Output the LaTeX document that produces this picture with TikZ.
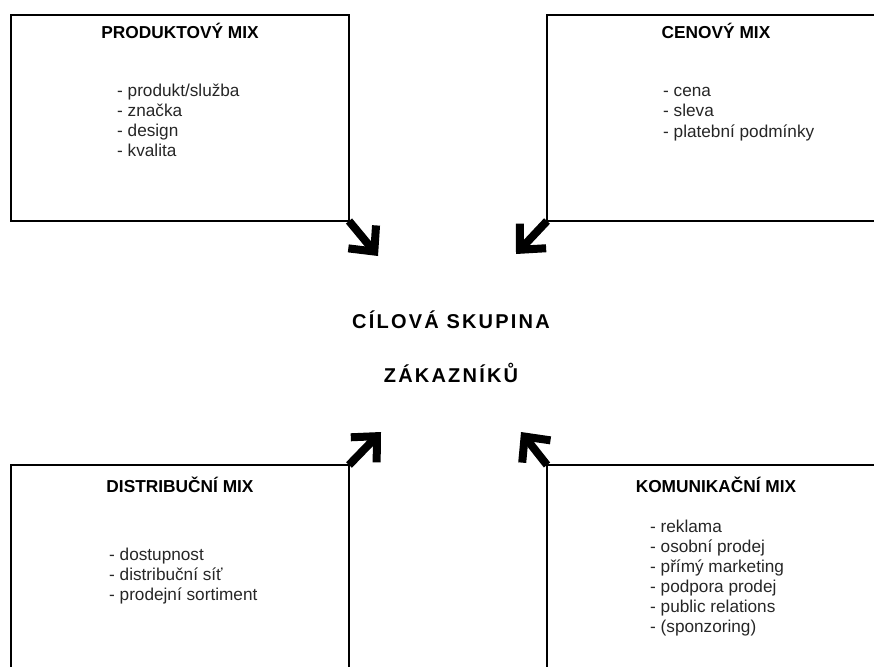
\documentclass[tikz,border=0pt]{standalone}
\usepackage{fontspec}
\setmainfont{Liberation Sans}
\usetikzlibrary{positioning, arrows.meta, calc}

\begin{document}
\begin{tikzpicture}[x=1pt, y=-1pt,
  mixbox/.style={draw, line width=1.5pt, outer sep=0pt, inner sep=0pt,
    minimum width=338pt, minimum height=206pt},
  mixtitle/.style={font=\fontsize{17.3}{20}\selectfont\bfseries, inner sep=0pt, anchor=base},
  item/.style={font=\fontsize{17.2}{20}\selectfont, text=black!85, inner sep=0pt, anchor=base west},
  goal/.style={font=\fontsize{20}{24}\selectfont\bfseries\addfontfeatures{LetterSpace=11}, inner sep=0pt, anchor=base},
  bigarrow/.style={line width=8pt, -{Straight Barb[length=19pt,width=36pt]}}]
  \useasboundingbox (0,0) rectangle (874,666);
  \clip (0,0) rectangle (874,666);
  % the four mixes
  \node[mixbox] (prod) at (180,118) {};
  \node[mixbox] (cena) at (716,118) {};
  \node[mixbox] (dist) at (180,568) {};
  \node[mixbox] (kom) at (716,568) {};
  \node[mixtitle] (prodT) at ([yshift=-24pt]prod.north) {PRODUKTOVÝ MIX};
  \node[mixtitle] (cenaT) at ([yshift=-24pt]cena.north) {CENOVÝ MIX};
  \node[mixtitle] (distT) at ([yshift=-27pt]dist.north) {DISTRIBUČNÍ MIX};
  \node[mixtitle] (komT) at ([yshift=-27pt]kom.north) {KOMUNIKAČNÍ MIX};
  \foreach \t [count=\i] in {- produkt/služba, - značka, - design, - kvalita}
    \node[item] (prod\i) at (117,76+20*\i) {\t};
  \foreach \t [count=\i] in {- cena, - sleva, - platební podmínky}
    \node[item] (cena\i) at (663,77+20*\i) {\t};
  \foreach \t [count=\i] in {- dostupnost, - distribuční síť, - prodejní sortiment}
    \node[item] (dist\i) at (109,540+20*\i) {\t};
  \foreach \t [count=\i] in {- reklama, - osobní prodej, - přímý marketing,
      - podpora prodej, - public relations, - (sponzoring)}
    \node[item] (kom\i) at (650,512+20*\i) {\t};
  % target group
  \node[goal] (cil1) at (451,328) {CÍLOVÁ SKUPINA};
  \node[goal] (cil2) at (451,382) {ZÁKAZNÍKŮ};
  \coordinate (tipP) at (378,256);
  \coordinate (tipC) at (516,254);
  \coordinate (tipD) at (381,432);
  \coordinate (tipK) at (521,432);
  \draw[bigarrow] (prod.south east) -- (tipP);
  \draw[bigarrow] (cena.south west) -- (tipC);
  \draw[bigarrow] (dist.north east) -- (tipD);
  \draw[bigarrow] (kom.north west) -- (tipK);
\end{tikzpicture}
\end{document}
